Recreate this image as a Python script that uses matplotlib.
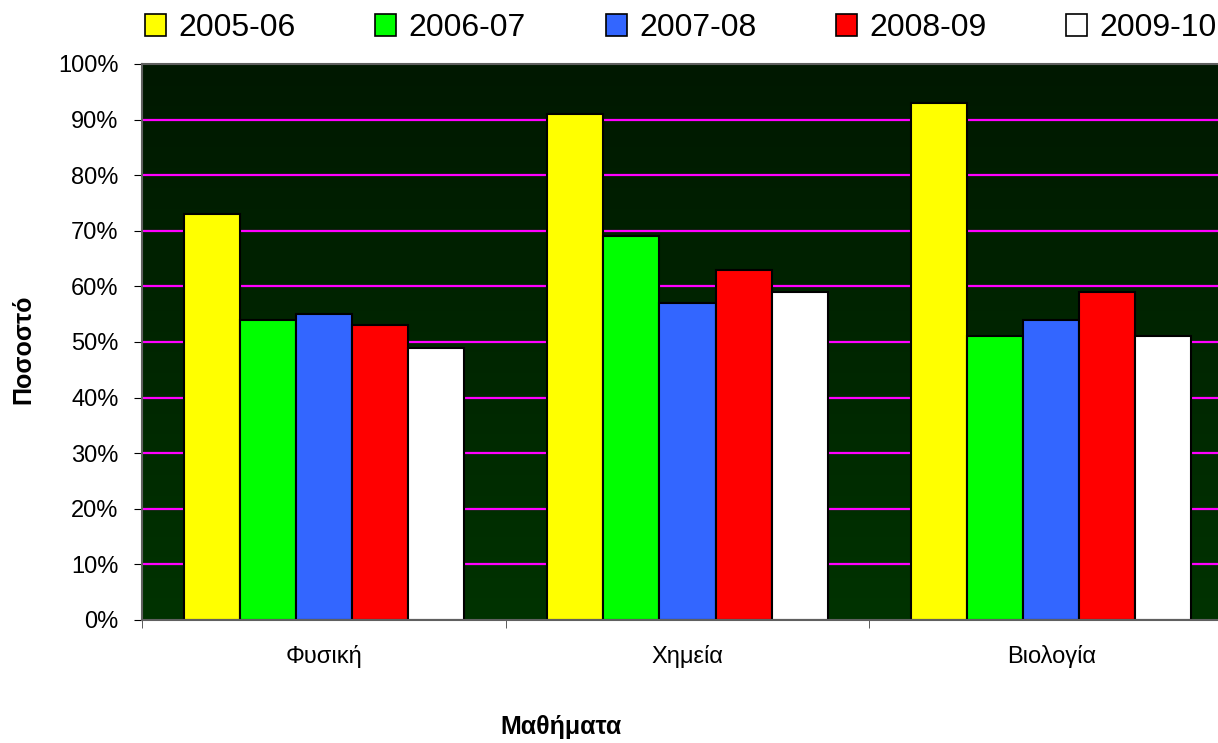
import matplotlib.pyplot as plt
import numpy as np
from matplotlib.patches import Patch
from matplotlib.colors import LinearSegmentedColormap

plt.rcParams['font.family'] = ['Liberation Sans', 'DejaVu Sans']

categories = ['Φυσική', 'Χημεία', 'Βιολογία']
years = ['2005-06', '2006-07', '2007-08', '2008-09', '2009-10']
colors = ['#ffff00', '#00ff00', '#3366ff', '#ff0000', '#ffffff']
values = [
    [73, 91, 93],   # 2005-06
    [54, 69, 51],   # 2006-07
    [55, 57, 54],   # 2007-08
    [53, 63, 59],   # 2008-09
    [49, 59, 51],   # 2009-10
]

fig = plt.figure(figsize=(12.18, 7.43), dpi=100)
W, H = 1218, 743
ax = fig.add_axes([142 / W, (H - 620) / H, (1233 - 142) / W, 556 / H])

# dark green gradient background
grad = np.linspace(0, 1, 256).reshape(-1, 1)
cmap = LinearSegmentedColormap.from_list('bg', ['#003300', '#001800'])
ax.imshow(grad, aspect='auto', cmap=cmap, origin='lower',
          extent=[-0.5, 2.5, 0, 100], zorder=0)

for y in range(10, 100, 10):
    ax.axhline(y, color='#ff00ff', linewidth=1.6, zorder=1)

x = np.arange(len(categories))
bw = 0.154
for i, (yr, vals) in enumerate(zip(years, values)):
    ax.bar(x + (i - 2) * bw, vals, bw, color=colors[i], edgecolor='black',
           linewidth=1.5, label=yr, zorder=2)

ax.set_xlim(-0.5, 2.5)
ax.set_ylim(0, 100)
ax.set_yticks(np.arange(0, 101, 10))
ax.set_yticklabels([f'{v}%' for v in range(0, 101, 10)], fontsize=17)
ax.set_xticks(x)
ax.set_xticklabels(categories, fontsize=17)
ax.set_xticks(np.arange(-0.5, 3, 1), minor=True)
ax.tick_params(axis='x', which='major', length=0, pad=18)
ax.tick_params(axis='x', which='minor', length=6, color='#404040')
ax.tick_params(axis='y', length=6, color='black', pad=11)
for s in ax.spines.values():
    s.set_color('#606060')
    s.set_linewidth(1.5)

fig.text(23 / W, 1 - 349 / H, 'Ποσοστό', rotation=90, fontsize=18,
         fontweight='bold', ha='center', va='center')
fig.text(561 / W, 1 - 727 / H, 'Μαθήματα', fontsize=18, fontweight='bold',
         ha='center', va='center')

handles = [Patch(facecolor=c, edgecolor='black', linewidth=1.2) for c in colors]
fig.legend(handles, years, loc='center left', bbox_to_anchor=(145 / W, 1 - 28 / H),
           ncol=5, frameon=False, fontsize=23, handlelength=0.66,
           handleheight=0.66, handletextpad=0.38, columnspacing=2.5,
           borderaxespad=0, borderpad=0)

fig.savefig('out.png', dpi=100)
